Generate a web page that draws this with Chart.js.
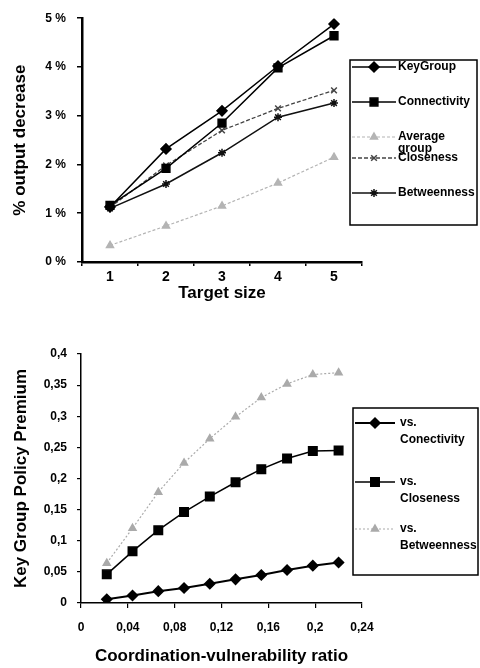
<!DOCTYPE html>
<html>
<head>
<meta charset="utf-8">
<script src="https://cdn.jsdelivr.net/npm/chart.js@4.4.1/dist/chart.umd.min.js"></script>
<style>
  html, body { margin: 0; padding: 0; background: #fff; }
  canvas { display: block; }
</style>
</head>
<body>
<canvas id="target-chart" width="480" height="320"></canvas>
<canvas id="premium-chart" width="480" height="348"></canvas>
<script>
// Top chart: % output decrease by target size
const targetSizes = ['1', '2', '3', '4', '5'];
const topNames = ['KeyGroup', 'Connectivity', 'Average group', 'Closeness', 'Betweenness'];
const keyGroup = [1.13, 2.32, 3.1, 4.02, 4.88];
const connectivity = [1.16, 1.92, 2.85, 3.98, 4.64];
const averageGroup = [0.34, 0.74, 1.15, 1.62, 2.15];
const closeness = [1.12, 1.98, 2.7, 3.15, 3.52];
const betweenness = [1.1, 1.6, 2.24, 2.97, 3.26];
const pctTicks = [0, 1, 2, 3, 4, 5];

// Bottom chart: key group policy premium vs coordination-vulnerability ratio
const ratios = [0.022, 0.044, 0.066, 0.088, 0.11, 0.132, 0.154, 0.176, 0.198, 0.22];
const bottomNames = ['vs. Conectivity', 'vs. Closeness', 'vs. Betweenness'];
const vsConnectivity = [0.006, 0.012, 0.019, 0.024, 0.031, 0.038, 0.045, 0.053, 0.06, 0.065];
const vsCloseness = [0.046, 0.083, 0.117, 0.146, 0.171, 0.194, 0.215, 0.232, 0.244, 0.245];
const vsBetweenness = [0.064, 0.12, 0.178, 0.225, 0.264, 0.299, 0.33, 0.352, 0.367, 0.37];

const FONT = "'Liberation Sans', Arial, sans-serif";
Chart.defaults.font.family = FONT;
Chart.defaults.color = '#000';

// split a label into lines that fit the legend width
function wrapLabel(ctx, text, maxWidth) {
    const words = text.split(' ');
    const lines = [];
    let line = '';
    words.forEach(w => {
        const test = line ? line + ' ' + w : w;
        if (line && ctx.measureText(test).width > maxWidth) {
            lines.push(line);
            line = w;
        } else {
            line = test;
        }
    });
    if (line) lines.push(line);
    return lines;
}

// Excel-style boxed legend drawn on the canvas
const boxLegend = {
    id: 'boxLegend',
    afterDatasetsDraw(chart, args, opts) {
        const ctx = chart.ctx;
        ctx.save();
        ctx.strokeStyle = '#000';
        ctx.lineWidth = 1.5;
        ctx.strokeRect(opts.left, opts.top, opts.right - opts.left, opts.bottom - opts.top);
        ctx.beginPath();
        ctx.rect(opts.left, opts.top, opts.right - opts.left, opts.bottom - opts.top);
        ctx.clip();
        ctx.font = 'bold ' + opts.fontSize + 'px ' + FONT;
        ctx.textBaseline = 'middle';
        chart.data.datasets.forEach((ds, i) => {
            const y = opts.rows[i];
            ctx.save();
            ctx.strokeStyle = ds.borderColor;
            ctx.lineWidth = ds.borderWidth;
            ctx.setLineDash(ds.borderDash || []);
            ctx.beginPath();
            ctx.moveTo(opts.lineStart, y);
            ctx.lineTo(opts.lineEnd, y);
            ctx.stroke();
            ctx.setLineDash([]);
            ctx.fillStyle = ds.pointBackgroundColor;
            ctx.strokeStyle = ds.pointBorderColor;
            ctx.lineWidth = ds.pointBorderWidth;
            Chart.helpers.drawPoint(ctx, {
                pointStyle: ds.pointStyle,
                rotation: 0,
                radius: ds.pointRadius,
                borderWidth: ds.pointBorderWidth
            }, (opts.lineStart + opts.lineEnd) / 2, y);
            ctx.restore();
            ctx.fillStyle = '#000';
            wrapLabel(ctx, ds.label, opts.right - opts.textX - 2).forEach((line, k) => {
                ctx.fillText(line, opts.textX, y + k * opts.lineHeight);
            });
        });
        ctx.restore();
    }
};

function series(label, data, color, width, dash, style, radius) {
    return {
        label: label,
        data: data,
        borderColor: color,
        borderWidth: width,
        borderDash: dash,
        pointStyle: style,
        pointRadius: radius,
        pointHoverRadius: radius,
        pointBackgroundColor: color,
        pointBorderColor: color,
        pointBorderWidth: 1.5,
        tension: 0,
        fill: false
    };
}

// ---- top chart ----
new Chart(document.getElementById('target-chart'), {
    type: 'line',
    data: {
        labels: targetSizes,
        datasets: [
            series(topNames[0], keyGroup, '#000', 1.5, [], 'rectRot', 5),
            series(topNames[1], connectivity, '#000', 1.5, [], 'rect', 5.5),
            series(topNames[2], averageGroup, '#b4b4b4', 1.2, [3, 2], 'triangle', 4),
            series(topNames[3], closeness, '#444', 1.3, [4, 2], 'crossRot', 4),
            series(topNames[4], betweenness, '#111', 1.5, [], 'star', 4)
        ]
    },
    options: {
        responsive: false,
        animation: false,
        layout: { padding: { top: 11, right: 118, bottom: 0, left: 0 } },
        plugins: {
            legend: { display: false },
            tooltip: { enabled: false },
            boxLegend: {
                left: 350, top: 60, right: 477, bottom: 225,
                lineStart: 352, lineEnd: 396, textX: 398,
                rows: [67, 102, 137, 158, 193],
                lineHeight: 12, fontSize: 12
            }
        },
        scales: {
            x: {
                offset: true,
                grid: { display: true, drawOnChartArea: false, offset: true, tickLength: 4, color: '#000', lineWidth: 1.5 },
                border: { color: '#000', width: 2.5 },
                ticks: { padding: 3, font: { size: 14, weight: 'bold' } },
                title: { display: true, text: 'Target size', font: { size: 17, weight: 'bold' }, padding: { top: 0, bottom: 16 } },
                afterFit: s => { s.height = 58; }
            },
            y: {
                min: 0,
                max: 5,
                afterBuildTicks: s => { s.ticks = pctTicks.map(v => ({ value: v })); },
                grid: { display: true, drawOnChartArea: false, tickLength: 5, color: '#000', lineWidth: 1.5 },
                border: { color: '#000', width: 2.5 },
                ticks: { padding: 11, font: { size: 12, weight: 'bold' }, callback: v => v + ' %' },
                title: { display: true, text: '% output decrease', font: { size: 17, weight: 'bold' }, padding: { top: 10, bottom: 0 } },
                afterFit: s => { s.width = 82; }
            }
        }
    },
    plugins: [boxLegend]
});

// ---- bottom chart ----
const toPoints = values => values.map((v, i) => ({ x: ratios[i], y: v }));
const commaNum = v => String(+v.toFixed(2)).replace('.', ',');

new Chart(document.getElementById('premium-chart'), {
    type: 'line',
    data: {
        datasets: [
            series(bottomNames[0], toPoints(vsConnectivity), '#000', 2, [], 'rectRot', 5),
            series(bottomNames[1], toPoints(vsCloseness), '#000', 1.5, [], 'rect', 6),
            series(bottomNames[2], toPoints(vsBetweenness), '#aaa', 1.2, [2, 2], 'triangle', 4)
        ]
    },
    options: {
        responsive: false,
        animation: false,
        layout: { padding: { top: 34, right: 118, bottom: 0, left: 0 } },
        plugins: {
            legend: { display: false },
            tooltip: { enabled: false },
            boxLegend: {
                left: 353, top: 88, right: 478, bottom: 255,
                lineStart: 355, lineEnd: 395, textX: 400,
                rows: [103, 162, 209],
                lineHeight: 17, fontSize: 12
            }
        },
        scales: {
            x: {
                type: 'linear',
                min: 0,
                max: 0.24,
                ticks: { stepSize: 0.04, padding: 12, font: { size: 12, weight: 'bold' }, callback: v => commaNum(v) },
                grid: { display: true, drawOnChartArea: false, tickLength: 5, color: '#000', lineWidth: 1.2 },
                border: { color: '#000', width: 1.5 },
                title: { display: true, text: 'Coordination-vulnerability ratio', font: { size: 17, weight: 'bold' }, padding: { top: 0, bottom: 1 } },
                afterFit: s => { s.height = 65; }
            },
            y: {
                min: 0,
                max: 0.4,
                ticks: { stepSize: 0.05, padding: 10, font: { size: 12, weight: 'bold' }, callback: v => commaNum(v) },
                grid: { display: true, drawOnChartArea: false, tickLength: 4, color: '#000', lineWidth: 1.2 },
                border: { color: '#000', width: 1.5 },
                title: { display: true, text: 'Key Group Policy Premium', font: { size: 17, weight: 'bold' }, padding: { top: 11, bottom: 0 } },
                afterFit: s => { s.width = 81; }
            }
        }
    },
    plugins: [boxLegend]
});
</script>
</body>
</html>
